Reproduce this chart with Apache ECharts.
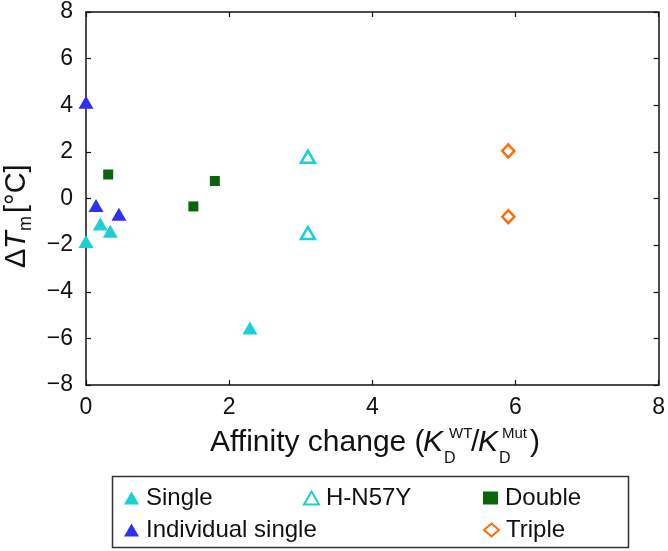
<!DOCTYPE html>
<html><head><meta charset="utf-8">
<script src="https://cdn.jsdelivr.net/npm/echarts@6/dist/echarts.min.js"></script>
<style>html,body{margin:0;padding:0;background:#fff}#c{width:668px;height:551px}</style>
</head><body><div id="c"></div>
<script>
// Data: [affinity change, ΔTm]
const singleData = [[0, -1.84], [0.2, -1.09], [0.34, -1.41], [2.29, -5.55]];
const hn57yData = [[3.1, 1.79], [3.1, -1.48]];
const doubleData = [[0.31, 1.03], [1.5, -0.34], [1.8, 0.75]];
const indivData = [[0, 4.13], [0.14, -0.3], [0.46, -0.68]];
const tripleData = [[5.9, 2.04], [5.9, -0.78]];
const xTicks = [0, 2, 4, 6, 8];
const yTicks = [-8, -6, -4, -2, 0, 2, 4, 6, 8];

const FONT = 'Liberation Sans, Arial, sans-serif';
const cyan = '#1ad0d2', blue = '#2f2ff2', green = '#0a640a', orange = '#ff6a0a';
const fmt = v => (v < 0 ? '\u2212' + Math.abs(v) : String(v));

const chart = echarts.init(document.getElementById('c'), null, {renderer: 'canvas'});
const axisCommon = {
  axisLine: {show: true, onZero: false, lineStyle: {color: '#111', width: 1.5}},
  axisTick: {show: true, inside: true, length: 5, lineStyle: {color: '#111', width: 1.2}},
  splitLine: {show: false}
};
const legendCommon = {
  orient: 'horizontal', itemGap: 0, itemWidth: 15, itemHeight: 13,
  textStyle: {fontFamily: FONT, fontSize: 24, color: '#111', padding: [0, 0, 0, 2]},
  padding: 0, selectedMode: false
};
const option = {
  animation: false,
  backgroundColor: '#fff',
  grid: {left: 86, right: 6, top: 12, bottom: 166, containLabel: false},
  xAxis: [
    Object.assign({type: 'value', min: xTicks[0], max: xTicks[xTicks.length - 1], interval: 2,
      axisLabel: {fontFamily: FONT, fontSize: 23, color: '#111', margin: 11, formatter: fmt}}, axisCommon),
    Object.assign({type: 'value', position: 'top', min: xTicks[0], max: xTicks[xTicks.length - 1], interval: 2,
      axisLabel: {show: false}}, axisCommon)
  ],
  yAxis: [
    Object.assign({type: 'value', min: yTicks[0], max: yTicks[yTicks.length - 1], interval: 2,
      axisLabel: {fontFamily: FONT, fontSize: 23, color: '#111', margin: 13, formatter: fmt}}, axisCommon),
    Object.assign({type: 'value', position: 'right', min: yTicks[0], max: yTicks[yTicks.length - 1], interval: 2,
      axisLabel: {show: false}}, axisCommon)
  ],
  legend: [
    Object.assign({data: ['Single'], left: 124, top: 486}, legendCommon),
    Object.assign({data: ['H-N57Y'], left: 303, top: 486}, legendCommon),
    Object.assign({data: ['Double'], left: 483, top: 486}, legendCommon),
    Object.assign({data: ['Individual single'], left: 124, top: 518}, legendCommon),
    Object.assign({data: ['Triple'], left: 483, top: 518}, legendCommon)
  ],
  series: [
    {name: 'Single', type: 'scatter', data: singleData, symbol: 'triangle', symbolSize: [15, 13],
      itemStyle: {color: cyan, opacity: 1}},
    {name: 'H-N57Y', type: 'scatter', data: hn57yData, symbol: 'triangle', symbolSize: [14, 12],
      itemStyle: {color: '#fff', borderColor: cyan, borderWidth: 2.5, opacity: 1}},
    {name: 'Double', type: 'scatter', data: doubleData, symbol: 'rect', symbolSize: 10,
      itemStyle: {color: green, opacity: 1}},
    {name: 'Individual single', type: 'scatter', data: indivData, symbol: 'triangle', symbolSize: [15, 13],
      itemStyle: {color: blue, opacity: 1}},
    {name: 'Triple', type: 'scatter', data: tripleData, symbol: 'diamond', symbolSize: [12, 13],
      itemStyle: {color: '#fff', borderColor: orange, borderWidth: 2.5, opacity: 1}}
  ],
  graphic: [
    // legend frame
    {type: 'rect', shape: {x: 112.5, y: 476.5, width: 516, height: 71}, z: 0,
      style: {fill: 'none', stroke: '#333', lineWidth: 1.5}},
    // x axis title
    {type: 'group', children: [
      {type: 'text', x: 210, y: 443, style: {text: 'Affinity change (', font: '30px ' + FONT, fill: '#111', verticalAlign: 'middle'}},
      {type: 'text', x: 423, y: 443, style: {text: 'K', font: 'italic 30px ' + FONT, fill: '#111', verticalAlign: 'middle'}},
      {type: 'text', x: 449, y: 434, style: {text: 'WT', font: '15px ' + FONT, fill: '#111', verticalAlign: 'middle'}},
      {type: 'text', x: 444, y: 459, style: {text: 'D', font: '16px ' + FONT, fill: '#111', verticalAlign: 'middle'}},
      {type: 'text', x: 471, y: 443, style: {text: '/', font: '30px ' + FONT, fill: '#111', verticalAlign: 'middle'}},
      {type: 'text', x: 478, y: 443, style: {text: 'K', font: 'italic 30px ' + FONT, fill: '#111', verticalAlign: 'middle'}},
      {type: 'text', x: 502, y: 434, style: {text: 'Mut', font: '15px ' + FONT, fill: '#111', verticalAlign: 'middle'}},
      {type: 'text', x: 499, y: 459, style: {text: 'D', font: '16px ' + FONT, fill: '#111', verticalAlign: 'middle'}},
      {type: 'text', x: 530, y: 443, style: {text: ')', font: '30px ' + FONT, fill: '#111', verticalAlign: 'middle'}}
    ]},
    // y axis title (rotated)
    {type: 'group', x: 17, y: 268, rotation: Math.PI / 2, children: [
      {type: 'text', x: 0, y: 0, style: {text: '\u0394', font: '29px ' + FONT, fill: '#111', verticalAlign: 'middle'}},
      {type: 'text', x: 19, y: 0, style: {text: 'T', font: 'italic 29px ' + FONT, fill: '#111', verticalAlign: 'middle'}},
      {type: 'text', x: 37, y: 9, style: {text: 'm', font: '18px ' + FONT, fill: '#111', verticalAlign: 'middle'}},
      {type: 'text', x: 55, y: 0, style: {text: '[\u00b0C]', font: '29px ' + FONT, fill: '#111', verticalAlign: 'middle'}}
    ]}
  ]
};
chart.setOption(option);
</script></body></html>
